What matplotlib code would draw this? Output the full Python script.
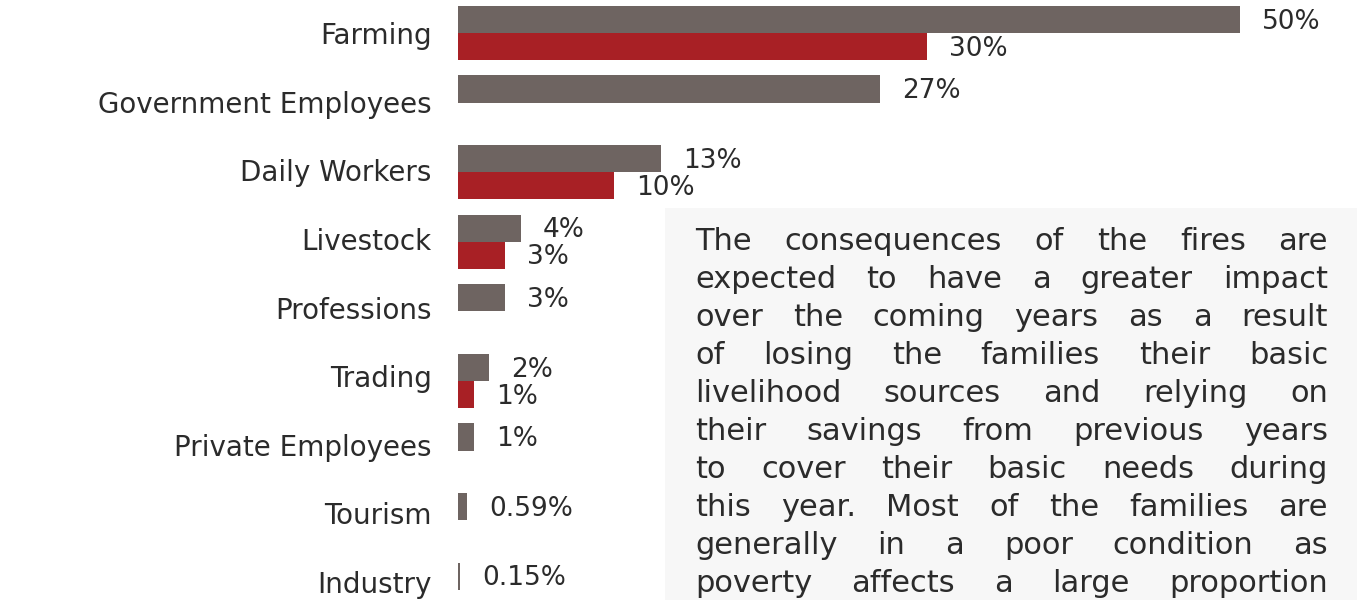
import numpy as np
import matplotlib
matplotlib.use("Agg")
import matplotlib.pyplot as plt
from matplotlib.patches import Rectangle

# data
categories = ["Farming", "Government Employees", "Daily Workers", "Livestock",
              "Professions", "Trading", "Private Employees", "Tourism", "Industry"]
before_vals = [50, 27, 13, 4, 3, 2, 1, 0.59, 0.15]
after_vals = [30, None, 10, 3, None, 1, None, None, None]
before_labels = ["50%", "27%", "13%", "4%", "3%", "2%", "1%", "0.59%", "0.15%"]
after_labels = ["30%", "", "10%", "3%", "", "1%", "", "", ""]

note_lines = [
    "The consequences of the fires are",
    "expected to have a greater impact",
    "over the coming years as a result",
    "of losing the families their basic",
    "livelihood sources and relying on",
    "their savings from previous years",
    "to cover their basic needs during",
    "this year. Most of the families are",
    "generally in a poor condition as",
    "poverty affects a large proportion",
]

GREY = "#6e6461"
RED = "#a82025"
TXT = "#2b2b2b"

W, H = 1366, 600
fig = plt.figure(figsize=(W / 100, H / 100), dpi=100)
fig.patch.set_facecolor("white")

# axes: x=0 at pixel 458, one category every ~69.6 px
ax = fig.add_axes([458 / W, 0, 1 - 458 / W, 1])
ax.set_xlim(0, 908 / 15.64)
ax.set_ylim((600 - 33) / 69.6, -33 / 69.6)

y = np.arange(len(categories))
h = 0.39
bv = np.array(before_vals, dtype=float)
av = np.array([np.nan if v is None else v for v in after_vals], dtype=float)
ax.barh(y - h / 2, bv, height=h, color=GREY, edgecolor="none", zorder=2)
ax.barh(y + h / 2, np.nan_to_num(av), height=h, color=RED, edgecolor="none", zorder=2)

off = 22 / 100 * 72
for i in range(len(categories)):
    ax.annotate(before_labels[i], (bv[i], y[i] - h / 2 + 0.03), xytext=(off, 0),
                textcoords="offset points", va="center", ha="left",
                fontsize=19, color=TXT)
    if after_labels[i]:
        ax.annotate(after_labels[i], (av[i], y[i] + h / 2 + 0.03), xytext=(off, 0),
                    textcoords="offset points", va="center", ha="left",
                    fontsize=19, color=TXT)

# category labels drift slightly upward relative to the bar groups
ax.set_yticks(y * 0.986)
ax.set_yticklabels(categories, fontsize=20, color=TXT)
ax.tick_params(axis="y", length=0, pad=19)
ax.set_xticks([])
for s in ax.spines.values():
    s.set_visible(False)
ax.patch.set_alpha(0)

# note box on the right
fig.patches.append(Rectangle((665 / W, 0), (1357 - 665) / W, (600 - 208) / H,
                             transform=fig.transFigure, facecolor="#f7f7f7",
                             edgecolor="none", zorder=3))

# justified paragraph, word by word
renderer = fig.canvas.get_renderer()
x0, x1 = 695, 1328
fs = 22
for k, line in enumerate(note_lines):
    yb = 600 - (242 + 38 * k)
    words = line.split()
    tmp = [fig.text(0, 0, w, fontsize=fs) for w in words]
    widths = [t.get_window_extent(renderer).width for t in tmp]
    for t in tmp:
        t.remove()
    gap = (x1 - x0 - sum(widths)) / (len(words) - 1)
    xp = x0
    for w, wd in zip(words, widths):
        fig.text(xp / W, yb / H, w, fontsize=fs, color=TXT, va="center",
                 ha="left", zorder=4)
        xp += wd + gap

fig.savefig("out.png", dpi=100)
